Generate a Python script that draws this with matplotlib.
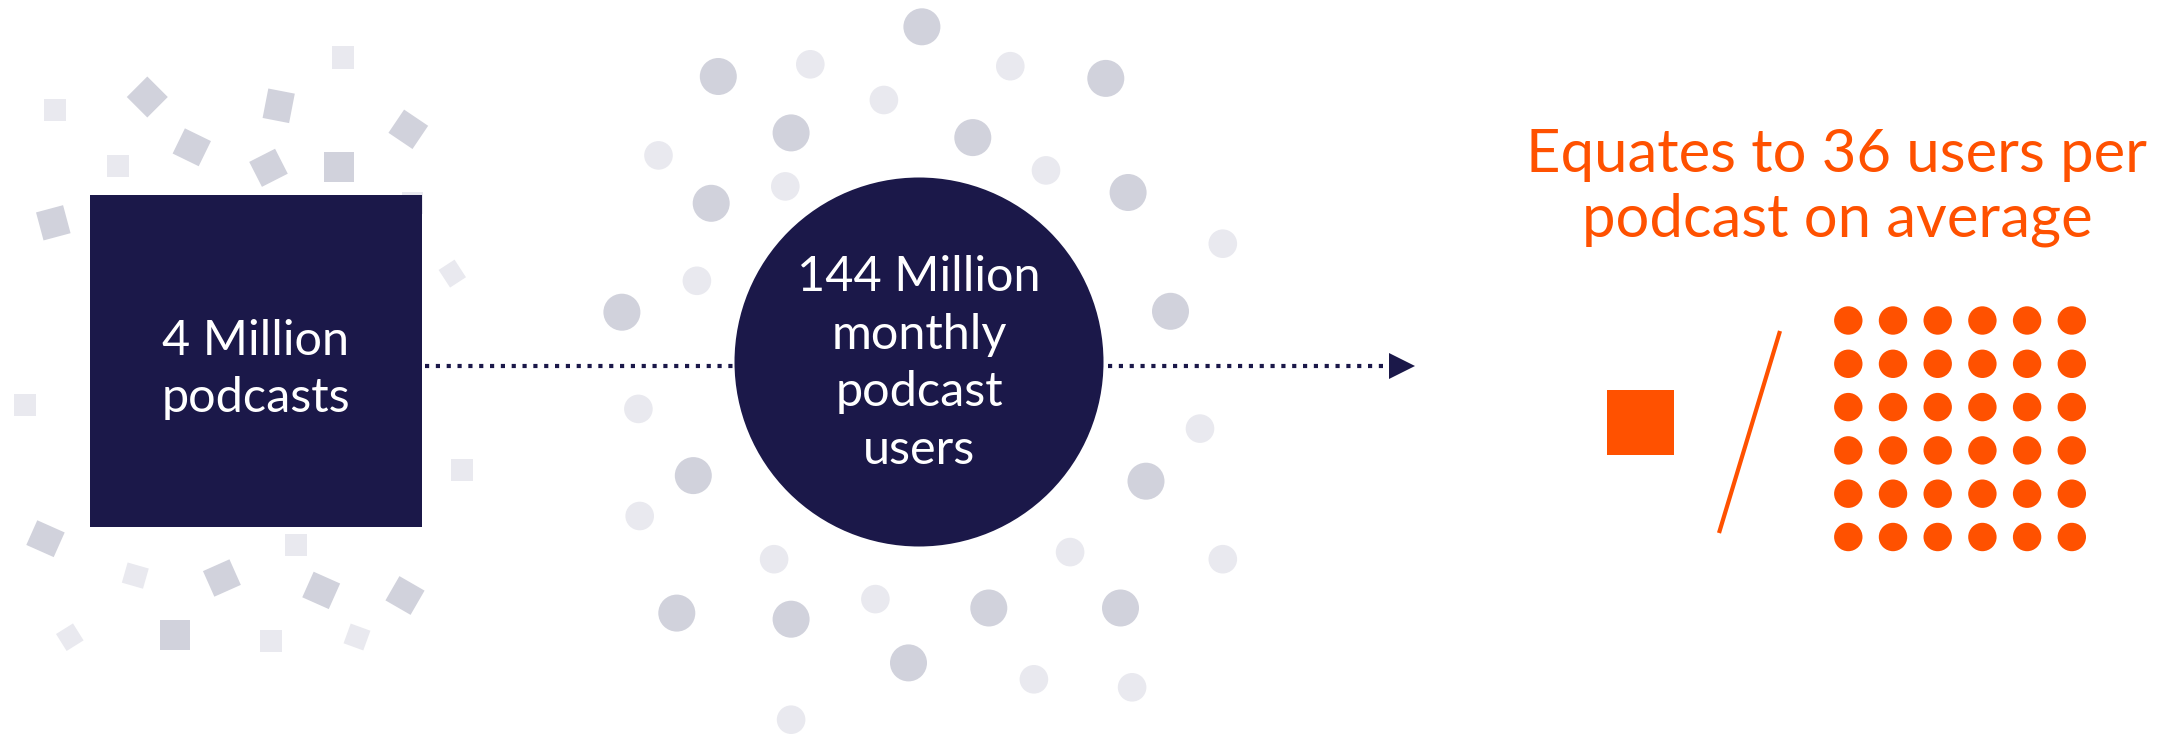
import matplotlib
matplotlib.use("Agg")
import matplotlib.pyplot as plt
from matplotlib.patches import Rectangle, Circle, Polygon

NAVY = "#1b1849"
ORANGE = "#ff5100"
GREY_DARK = "#d1d2dc"
GREY_LIGHT = "#e9e9ef"
FONT = "Lato"

# headline figures
podcasts_lines = ["4 Million", "podcasts"]
users_lines = ["144 Million", "monthly", "podcast", "users"]
ratio_lines = ["Equates to 36 users per", "podcast on average"]
users_per_podcast = 36
grid_cols = 6

# confetti around the podcast block: (x, y, w, h, angle, shade)
confetti = [
    (342.7, 57.0, 22, 23, 0, "light"),
    (55.0, 110.0, 22, 22, 0, "light"),
    (147.3, 97.0, 29, 29, 45, "dark"),
    (278.7, 105.8, 27, 30, 11, "dark"),
    (408.3, 129.3, 29, 28, 34, "dark"),
    (191.8, 147.3, 29, 28, 26, "dark"),
    (118.0, 166.0, 22, 22, 0, "light"),
    (268.5, 167.8, 29, 28, -27, "dark"),
    (339.0, 167.0, 30, 30, 0, "dark"),
    (412.0, 203.0, 21, 22, 0, "light"),
    (53.3, 222.8, 28, 29, -15, "dark"),
    (452.3, 273.6, 19, 21, -33, "light"),
    (25.0, 404.5, 22, 22, 0, "light"),
    (461.8, 470.0, 22, 22, 0, "light"),
    (45.5, 538.7, 30, 27, 24, "dark"),
    (296.0, 545.0, 22, 22, 0, "light"),
    (135.3, 575.6, 22, 21, 16, "light"),
    (221.9, 578.0, 29, 28, -24, "dark"),
    (321.2, 590.4, 29, 28, 24, "dark"),
    (405.0, 595.5, 29, 28, 30, "dark"),
    (69.8, 637.2, 20, 20, -32, "light"),
    (175.0, 634.5, 30, 30, 0, "dark"),
    (271.0, 641.4, 22, 22, 0, "light"),
    (357.0, 637.0, 21, 21, 20, "light"),
]

# dots scattered around the users circle
dots_dark_x = [921.9, 718.3, 1105.8, 791.1, 972.8, 711.2, 1128.1, 621.9,
               1170.5, 693.3, 1146.0, 676.8, 791.1, 988.8, 1120.5, 908.5]
dots_dark_y = [26.8, 76.5, 78.4, 132.9, 137.6, 203.3, 192.5, 312.2,
               311.3, 475.6, 481.2, 613.1, 619.2, 608.0, 608.0, 662.9]
dots_light_x = [810.3, 1010.3, 883.9, 658.5, 1046.0, 785.3, 1222.8, 696.9, 638.4,
                1200.0, 639.7, 774.1, 1070.1, 1222.8, 875.4, 1033.9, 1132.1, 791.1]
dots_light_y = [64.3, 66.2, 100.0, 155.4, 170.4, 186.4, 243.7, 280.8, 408.9,
                428.6, 516.0, 559.2, 552.1, 559.2, 599.1, 679.3, 687.3, 719.7]

W, H = 2169, 736
fig = plt.figure(figsize=(W / 100, H / 100), dpi=100)
ax = fig.add_axes([0, 0, 1, 1])
ax.set_xlim(0, W)
ax.set_ylim(H, 0)
ax.set_aspect("equal")
ax.axis("off")

shade = {"dark": GREY_DARK, "light": GREY_LIGHT}
for x, y, w, h, ang, s in confetti:
    ax.add_patch(Rectangle((x - w / 2, y - h / 2), w, h, angle=ang,
                           rotation_point="center", color=shade[s], lw=0, zorder=1))

for x, y in zip(dots_dark_x, dots_dark_y):
    ax.add_patch(Circle((x, y), 18.5, color=GREY_DARK, lw=0, zorder=1))
for x, y in zip(dots_light_x, dots_light_y):
    ax.add_patch(Circle((x, y), 14.3, color=GREY_LIGHT, lw=0, zorder=1))

# dotted connector + arrow head
line_y = 366
dot_style = dict(color=NAVY, lw=3.0, ls=(0, (1, 1.6)), solid_capstyle="butt",
                 dash_capstyle="butt", zorder=2)
ax.plot([425, 735], [line_y, line_y], **dot_style)
ax.plot([1108, 1390], [line_y, line_y], **dot_style)
ax.add_patch(Polygon([[1389, 353], [1415, line_y], [1389, 379]], closed=True,
                     color=NAVY, lw=0, zorder=3))

# podcast block
ax.add_patch(Rectangle((90, 195), 332, 332, color=NAVY, lw=0, zorder=3))
for i, t in enumerate(podcasts_lines):
    ax.text(256, 355 + i * 57, t, ha="center", va="baseline", color="white",
            fontsize=35, family=FONT, zorder=4)

# users circle
ax.add_patch(Circle((919, 362), 184.5, color=NAVY, lw=0, zorder=3))
for i, t in enumerate(users_lines):
    ax.text(919, 291 + i * 57.7, t, ha="center", va="baseline", color="white",
            fontsize=35, family=FONT, zorder=4)

# ratio panel
for i, t in enumerate(ratio_lines):
    ax.text(1837, 171.7 + i * 65, t, ha="center", va="baseline", color=ORANGE,
            fontsize=43, family=FONT, zorder=4)

ax.add_patch(Rectangle((1607, 390), 67, 65, color=ORANGE, lw=0, zorder=3))
ax.plot([1780, 1719], [331, 533], color=ORANGE, lw=3, solid_capstyle="butt", zorder=3)

for k in range(users_per_podcast):
    r, c = divmod(k, grid_cols)
    ax.add_patch(Circle((1848.3 + c * 44.7, 320.5 + r * 43.3), 14.2,
                        color=ORANGE, lw=0, zorder=3))

fig.savefig("out.png", dpi=100)
